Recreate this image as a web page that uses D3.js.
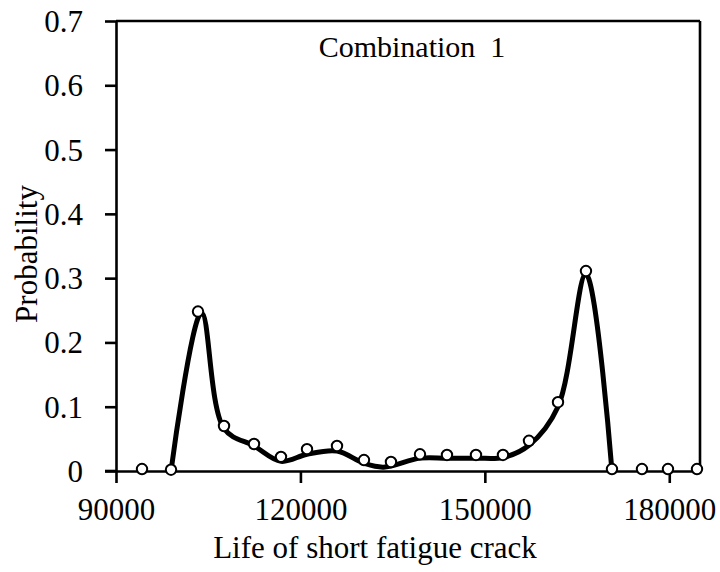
<!DOCTYPE html>
<html><head><meta charset="utf-8">
<script src="https://cdn.jsdelivr.net/npm/d3@7"></script>
<style>body{margin:0;background:#fff}svg{display:block}</style>
</head><body>
<svg id="c" width="720" height="572"></svg>
<script>
// Observed samples (life, probability)
const lifeValues = [94230, 98950, 103340, 107570, 112450, 116840, 121070, 125950, 130340, 134730, 139450, 143840, 148560, 152950, 157180, 161900, 166450, 170680, 175560, 179790, 184510];
const probValues = [0.003, 0.002, 0.248, 0.070, 0.042, 0.022, 0.034, 0.039, 0.017, 0.014, 0.026, 0.025, 0.025, 0.025, 0.047, 0.107, 0.311, 0.003, 0.003, 0.003, 0.003];
// Fitted curve
const fitLife = [98950, 103900, 107570, 112450, 116840, 121070, 125950, 130340, 133500, 139450, 143840, 148560, 152950, 157180, 161900, 166450, 170680];
const fitProb = [0.0, 0.246, 0.066, 0.039, 0.015, 0.026, 0.031, 0.012, 0.006, 0.020, 0.020, 0.020, 0.021, 0.040, 0.100, 0.306, 0.0];
const xTicks = [90000, 120000, 150000, 180000];
const yTicks = [0, 0.1, 0.2, 0.3, 0.4, 0.5, 0.6, 0.7];
const label = "Combination  1";

const svg = d3.select("#c");
const L = 116, R = 700, T = 21, B = 471;
const x = d3.scaleLinear().domain([90000, 185000]).range([L, R]);
const y = d3.scaleLinear().domain([0, 0.7]).range([B, T]);
const font = "'Liberation Serif', 'Times New Roman', serif";

// frame top & right
svg.append("line").attr("x1", L).attr("x2", R).attr("y1", T).attr("y2", T).attr("stroke", "#000").attr("stroke-width", 2.6);
svg.append("line").attr("x1", R).attr("x2", R).attr("y1", T).attr("y2", B).attr("stroke", "#000").attr("stroke-width", 2.6);

const xAxis = svg.append("g").attr("transform", `translate(0,${B})`)
  .call(d3.axisBottom(x).tickValues(xTicks).tickSize(12).tickSizeOuter(0).tickFormat(d3.format("d")).tickPadding(8));
const yAxis = svg.append("g").attr("transform", `translate(${L},0)`)
  .call(d3.axisLeft(y).tickValues(yTicks).tickSize(11).tickSizeOuter(0).tickFormat(d => d === 0 ? "0" : d3.format(".1f")(d)).tickPadding(22));
[xAxis, yAxis].forEach(g => {
  g.select(".domain").attr("stroke", "#000").attr("stroke-width", 2.6);
  g.selectAll(".tick line").attr("stroke", "#000").attr("stroke-width", 2.6);
  g.selectAll("text").attr("fill", "#000").style("font-family", font).style("font-size", "31px");
});
svg.append("line").attr("x1", L - 11).attr("x2", L).attr("y1", B).attr("y2", B).attr("stroke", "#000").attr("stroke-width", 2.6);
xAxis.selectAll("text").attr("dy", "0.95em");
yAxis.selectAll("text").attr("dy", "0.34em");

// curve
const fit = fitLife.map((v, i) => [v, fitProb[i]]);
svg.append("path").datum(fit)
  .attr("d", d3.line().x(d => x(d[0])).y(d => y(d[1])).curve(d3.curveCatmullRom.alpha(0.5)))
  .attr("fill", "none").attr("stroke", "#000").attr("stroke-width", 5).attr("stroke-linejoin", "round").attr("stroke-linecap", "round");

// points
const pts = lifeValues.map((v, i) => [v, probValues[i]]);
svg.append("g").selectAll("circle").data(pts).join("circle")
  .attr("cx", d => x(d[0])).attr("cy", d => y(d[1])).attr("r", 5.2)
  .attr("fill", "#fff").attr("stroke", "#000").attr("stroke-width", 2);

// texts
svg.append("text").attr("x", 412).attr("y", 57).attr("text-anchor", "middle")
  .style("font-family", font).style("font-size", "30px").style("white-space", "pre").text(label);
svg.append("text").attr("x", 375).attr("y", 558).attr("text-anchor", "middle")
  .style("font-family", font).style("font-size", "31px").text("Life of short fatigue crack");
svg.append("text").attr("transform", "translate(37,254) rotate(-90)").attr("text-anchor", "middle")
  .style("font-family", font).style("font-size", "31px").text("Probability");
</script>
</body></html>
